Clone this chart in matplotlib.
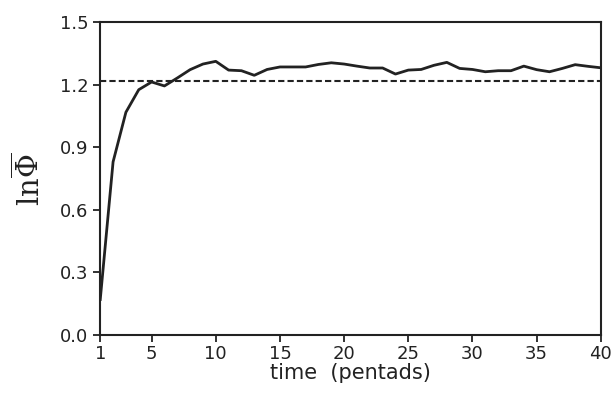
import numpy as np
import matplotlib.pyplot as plt

# values
pentads = np.arange(1, 41)
ln_phi = [0.17, 0.83, 1.068, 1.176, 1.213, 1.194, 1.232, 1.272, 1.299, 1.312,
          1.270, 1.267, 1.245, 1.273, 1.285, 1.285, 1.285, 1.297, 1.305, 1.299,
          1.289, 1.280, 1.280, 1.251, 1.270, 1.273, 1.293, 1.307, 1.278, 1.273,
          1.262, 1.267, 1.267, 1.289, 1.272, 1.262, 1.278, 1.296, 1.288, 1.281]
ref_level = 1.216

xticks = [1, 5, 10, 15, 20, 25, 30, 35, 40]
yticks = [0.0, 0.3, 0.6, 0.9, 1.2, 1.5]

fig = plt.figure(figsize=(6.15, 3.95), dpi=100)
ax = fig.add_axes([0.163, 0.152, 0.814, 0.792])

ax.plot(pentads, ln_phi, color='#222222', linewidth=2.0)
ax.axhline(ref_level, color='#222222', linewidth=1.5, linestyle=(0, (3, 1.5)))

ax.set_xlim(1, 40)
ax.set_ylim(0, 1.5)
ax.set_xticks(xticks)
ax.set_yticks(yticks)
ax.set_yticklabels([f"{v:.1f}" for v in yticks])

for s in ax.spines.values():
    s.set_linewidth(1.5)
    s.set_color('#222222')
ax.tick_params(direction='out', length=5, width=1.3, labelsize=13, colors='#222222')
ax.tick_params(axis='x', pad=2)

ax.set_xlabel('time  (pentads)', fontsize=15, labelpad=0, color='#222222')
ax.set_ylabel(r'$\mathrm{ln}\overline{\Phi}$', fontsize=21, labelpad=10,
              color='#222222', math_fontfamily='dejavuserif')

fig.savefig('out.png', dpi=100)
